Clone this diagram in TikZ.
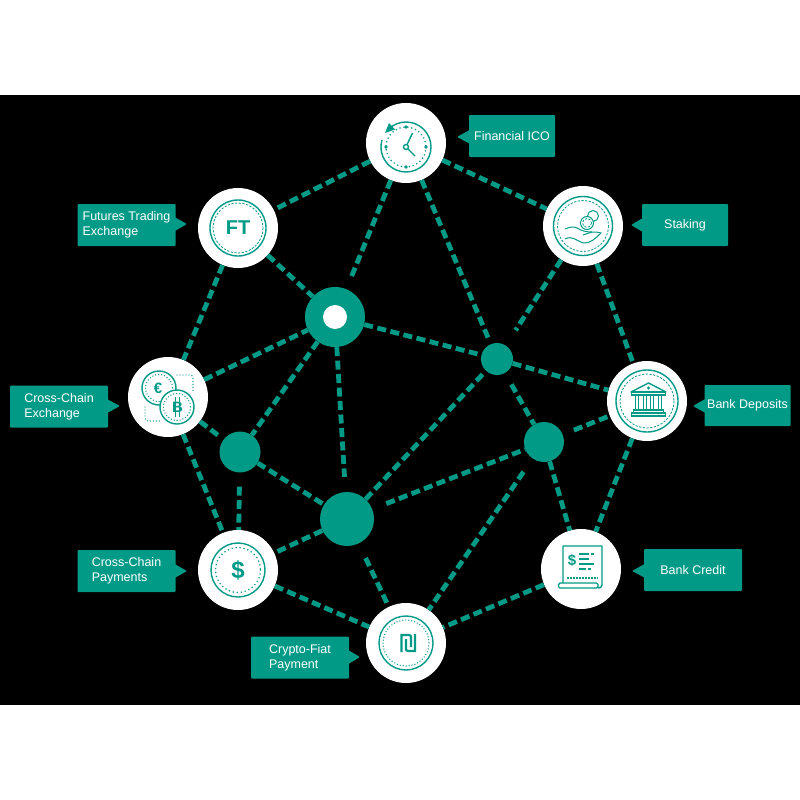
\documentclass[tikz,border=0pt]{standalone}
\usepackage{fontspec}
\setmainfont{Liberation Sans}
\usetikzlibrary{shapes.callouts}
\definecolor{teal}{HTML}{009A87}
\begin{document}
\begin{tikzpicture}[x=1pt, y=-1pt]
  \tikzstyle{disc}=[circle, fill=white, minimum size=80pt, inner sep=0pt]
  \tikzstyle{hub}=[circle, fill=teal, inner sep=0pt]
  \tikzstyle{link}=[draw=teal, line width=4.8pt, dash pattern=on 9pt off 4.5pt]
  \tikzstyle{tag}=[rectangle callout, fill=teal, text=white, rounded corners=1pt, minimum width=98pt,
    minimum height=42pt, inner sep=0pt, align=left, callout pointer width=13pt,
    font=\fontsize{12.5}{15}\selectfont]
  \tikzstyle{line}=[draw=teal, line width=1.4pt]
  \tikzstyle{thin}=[draw=teal, line width=1pt]
  \tikzstyle{dashring}=[draw=teal, line width=.8pt, dash pattern=on 2.2pt off 1.5pt]
  \tikzstyle{dotring}=[draw=teal, line width=1.7pt, line cap=round, dash pattern=on 0pt off 4pt]
  \tikzstyle{smalldots}=[draw=teal, line width=1.4pt, line cap=round, dash pattern=on 0pt off 3pt]
  \tikzstyle{glyph}=[text=teal, inner sep=0pt]

  \fill [white] (0, 0) rectangle (800, 800);
  \fill [black] (0, 95) rectangle (800, 705);
  \useasboundingbox (0, 0) rectangle (800, 800);

  \node[disc] (ico)      at (406, 143) {};
  \node[disc] (ft)       at (238, 228) {};
  \node[disc] (staking)  at (583, 226) {};
  \node[disc] (crossex)  at (168, 397) {};
  \node[disc] (deposits) at (647, 401) {};
  \node[disc] (credit)   at (581, 569) {};
  \node[disc] (payments) at (238, 570) {};
  \node[disc] (fiat)     at (406, 643) {};

  \node[hub, minimum size=60pt] (hubA) at (335, 317) {};
  \node[circle, fill=white, minimum size=24pt, inner sep=0pt] (hubAeye) at (335, 317) {};
  \node[hub, minimum size=54pt] (hubB) at (347, 519) {};
  \node[hub, minimum size=41pt] (dotA) at (240, 452) {};
  \node[hub, minimum size=32pt] (dotB) at (497, 359) {};
  \node[hub, minimum size=40pt] (dotC) at (544, 442) {};

  \path[link] (ico) edge (ft);
  \path[link] (ico) edge (staking);
  \path[link, shorten >=12pt] (ico) edge (hubA);
  \path[link, shorten >=5pt] (ico) edge (dotB);
  \path[link] (ft) edge (crossex);
  \path[link] (ft) edge (hubA);
  \path[link, shorten >=18pt] (staking) edge (dotB);
  \path[link] (staking) edge (deposits);
  \path[link] (crossex) edge (hubA);
  \path[link, shorten >=6pt] (crossex) edge (dotA);
  \path[link] (crossex) edge (payments);
  \path[link] (hubA) edge (dotA);
  \path[link, shorten >=15pt] (hubA) edge (hubB);
  \path[link, shorten >=2pt] (hubA) edge (dotB);
  \path[link] (dotA) edge (hubB);
  \path[link, shorten <=14pt] (dotA) edge (payments);
  \path[link] (hubB) edge (payments);
  \path[link, shorten >=4pt] (hubB) edge (dotB);
  \path[link, shorten <=15pt] (hubB) edge (dotC);
  \path[link, shorten <=16pt, shorten >=4pt] (hubB) edge (fiat);
  \path[link] (dotB) edge (deposits);
  \path[link, shorten <=13pt] (dotB) edge (dotC);
  \path[link, shorten <=12pt] (dotC) edge (deposits);
  \path[link] (dotC) edge (credit);
  \path[link, shorten <=16pt] (dotC) edge (fiat);
  \path[link] (deposits) edge (credit);
  \path[link] (payments) edge (fiat);
  \path[link] (credit) edge (fiat);

  \node[tag, minimum width=86pt, callout absolute pointer={(457, 137)}] (icotag) at (512, 136) {Financial ICO};
  \node[tag, callout absolute pointer={(187, 224)}] (fttag) at (126.5, 225) {Futures Trading\\Exchange};
  \node[tag, minimum width=86pt, callout absolute pointer={(631, 225)}] (stakingtag) at (685, 225) {Staking};
  \node[tag, callout absolute pointer={(120, 406)}] (crossextag) at (59, 406.5) {Cross-Chain\\Exchange};
  \node[tag, minimum width=86pt, minimum height=41pt, callout absolute pointer={(693, 406)}] (depositstag) at (747.5, 405.5) {Bank Deposits};
  \node[tag, callout absolute pointer={(632, 571)}] (credittag) at (693, 570) {Bank Credit};
  \node[tag, callout absolute pointer={(187, 571)}] (paymentstag) at (126.5, 571) {Cross-Chain\\Payments};
  \node[tag, callout absolute pointer={(360, 657)}] (fiattag) at (300, 657.5) {Crypto-Fiat\\Payment};

  % clock
  \draw[line] (406, 147) ++(225:25) arc (225:556:25);
  \fill[teal] (385, 133) -- (395, 129.5) -- (389, 123) -- cycle;
  \draw[dotring] (406, 147) circle (20);
  \fill[teal] (406, 127) circle (1.8) (406, 167) circle (1.8) (386, 147) circle (1.8) (426, 147) circle (1.8);
  \draw[line] (406, 147) circle (2.5);
  \draw[line] (407, 144.7) -- (412.5, 133);
  \draw[line] (408, 149) -- (415, 156);

  % futures
  \draw[line] (238, 228) circle (28);
  \draw[dashring] (238, 228) circle (25);
  \node[glyph, font=\fontsize{20}{20}\selectfont\bfseries] (fttext) at (238, 228) {FT};

  % coins on a hand
  \draw[line] (583, 226) circle (29.5);
  \draw[dashring] (583, 226) circle (25.5);
  \draw[thin] (593, 216) circle (5.5);
  \draw[thin, fill=white] (587, 223) circle (6.5);
  \draw[dashring] (587, 223) circle (4.5);
  \draw[thin] (565, 229) .. controls (570, 227) and (573, 226) .. (577, 228) .. controls (582, 231) and (586, 232) .. (592, 232)
    .. controls (596, 232) and (598, 232) .. (601, 233) .. controls (596, 238) and (590, 244) .. (583, 243)
    .. controls (577, 241) and (572, 235) .. (565, 239);
  \draw[thin] (583, 235) -- (592, 232);

  % euro and bitcoin
  \draw[line] (159, 388) circle (17);
  \draw[smalldots] (159, 388) circle (13.5);
  \node[glyph, font=\fontsize{15}{15}\selectfont\bfseries] (eurotext) at (158, 388) {€};
  \draw[line, fill=white] (177, 407) circle (17);
  \draw[smalldots] (177, 407) circle (13.5);
  \node[glyph, font=\fontsize{15}{15}\selectfont\bfseries] (btctext) at (177.5, 407) {B};
  \draw[thin] (175.5, 397) -- (175.5, 417) (179, 397) -- (179, 417);
  \draw[smalldots, rounded corners=3pt] (177, 375) -- (193, 375) -- (193, 392);
  \draw[smalldots, rounded corners=3pt] (145, 407) -- (145, 421) -- (160, 421);

  % bank building
  \draw[line] (647, 401) circle (31);
  \draw[dashring] (647, 401) circle (27);
  \draw[line, line join=round] (631, 392) -- (648.5, 383) -- (666, 392) -- cycle;
  \draw[thin] (648.5, 388) circle (1);
  \draw[line] (631.5, 392) rectangle (665.5, 395);
  \foreach \x in {637, 645, 652, 660}
    \draw[thin] (\x-1.5, 395) -- (\x-1.5, 410) (\x+1.5, 395) -- (\x+1.5, 410);
  \draw[line] (633.5, 410) rectangle (663.5, 413);
  \draw[line] (631.5, 413) rectangle (665.5, 416);

  % receipt
  \draw[line, line join=round] (563, 583) -- (563, 546) -- (602, 546) -- (602, 585) .. controls (602, 587) and (600, 588) .. (598, 588);
  \draw[line, rounded corners=1.5pt] (558.5, 583) -- (598, 583) -- (598, 588) -- (558.5, 588) -- cycle;
  \node[glyph, font=\fontsize{15}{15}\selectfont\bfseries] (receiptdollar) at (572, 560) {\$};
  \draw[line] (579, 554) -- (589, 554) (591, 554) -- (594, 554);
  \draw[line] (579, 559) -- (589, 559);
  \draw[line] (579, 564) -- (594, 564);
  \draw[line] (579, 569) -- (586, 569) (588, 569) -- (591, 569);
  \draw[draw=teal, line width=1.7pt, dash pattern=on 1.5pt off 1.5pt] (567, 578) -- (598, 578);

  % dollar
  \draw[line] (238, 570) circle (27);
  \draw[dotring] (238, 570) circle (22.5);
  \node[glyph, font=\fontsize{24}{24}\selectfont\bfseries] (dollartext) at (238, 570) {\$};

  % shekel
  \draw[line] (406, 643) circle (27);
  \draw[smalldots] (406, 643) circle (23);
  \draw[draw=teal, line width=2.2pt] (401.5, 652) -- (401.5, 635) -- (409, 635) .. controls (410.5, 635) and (411, 636) .. (411, 637) -- (411, 647);
  \draw[draw=teal, line width=2.2pt] (415, 634) -- (415, 651) -- (408, 651) .. controls (406.5, 651) and (406, 650) .. (406, 649) -- (406, 639);
\end{tikzpicture}
\end{document}
